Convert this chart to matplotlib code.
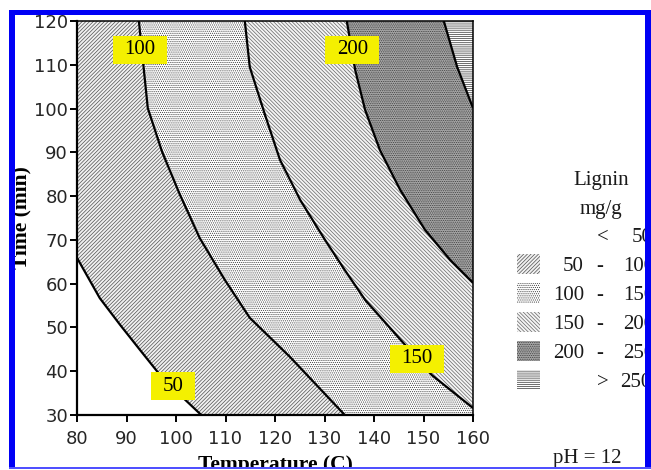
import matplotlib
matplotlib.use("Agg")
import matplotlib.pyplot as plt
from matplotlib.patches import Rectangle
from matplotlib.path import Path

# ---- data -------------------------------------------------------------
levels = [50, 100, 150, 200, 250]          # lignin, mg/g
x_ticks = [80, 90, 100, 110, 120, 130, 140, 150, 160]
y_ticks = [30, 40, 50, 60, 70, 80, 90, 100, 110, 120]

# iso-lignin curves: temperature (C) and time (min)
c50_T = [80.0, 84.6, 88.7, 92.7, 96.8, 100.8, 105.1]
c50_t = [65.9, 56.7, 50.6, 44.9, 39.1, 34.6, 30.0]

c100_T = [92.5, 94.3, 97.2, 100.8, 104.8, 109.9, 114.9, 123.0, 134.1]
c100_t = [120.0, 100.1, 90.1, 80.3, 70.4, 60.8, 52.2, 43.3, 30.0]

c150_T = [113.9, 114.9, 118.0, 121.0, 125.1, 130.1, 134.1, 138.2, 145.9, 151.7, 160.0]
c150_t = [120.0, 109.5, 98.5, 88.3, 79.1, 70.0, 63.1, 56.3, 46.5, 39.1, 31.6]

c200_T = [134.5, 136.2, 138.2, 141.2, 145.3, 150.3, 155.4, 160.0]
c200_t = [120.0, 108.8, 99.7, 90.5, 81.4, 72.3, 65.4, 60.2]

c250_T = [154.1, 156.8, 160.0]
c250_t = [120.0, 109.5, 100.1]

# contour label anchor points (T, t)
label_T = [99.4, 92.7, 148.7, 135.6]
label_t = [36.6, 113.4, 42.8, 113.4]
label_val = [50, 100, 150, 200]

ph_value = 12

# ---- figure -----------------------------------------------------------
W, H = 651, 470
fig = plt.figure(figsize=(W / 100, H / 100), dpi=100)
fig.patch.set_facecolor("white")


def fx(x):
    return x / W


def fy(y):
    return 1 - y / H


ax = fig.add_axes([fx(77), fy(415), (473 - 77) / W, (415 - 21) / H])
X0, X1 = x_ticks[0], x_ticks[-1]
Y0, Y1 = y_ticks[0], y_ticks[-1]
ax.set_xlim(X0, X1)
ax.set_ylim(Y0, Y1)

plt.rcParams["hatch.linewidth"] = 0.5

# fill styles per band: (<50, 50-100, 100-150, 150-200, 200-250, >250)
band_styles = [
    dict(facecolor="white", hatch=None, edgecolor="white"),
    dict(facecolor="#f0f0f0", hatch="/" * 9, edgecolor="#505050"),
    dict(facecolor="white", hatch="." * 8, edgecolor="#3c3c3c"),
    dict(facecolor="#f4f4f4", hatch="\\" * 9, edgecolor="#666666"),
    dict(facecolor="#a6a6a6", hatch="." * 9, edgecolor="#3a3a3a"),
    dict(facecolor="white", hatch="-" * 8, edgecolor="#333333"),
]

curves = [(c50_T, c50_t), (c100_T, c100_t), (c150_T, c150_t),
          (c200_T, c200_t), (c250_T, c250_t)]


def below_region(T, t):
    """Polygon of the part of the plot lying below/left of a curve."""
    xs, ys = list(T), list(t)
    if xs[-1] >= X1:              # curve leaves through the right edge
        xs.append(X1); ys.append(Y0)
    xs.append(X0); ys.append(Y0)
    if ys[0] >= Y1:               # curve enters through the top edge
        xs.append(X0); ys.append(Y1)
    return xs, ys


# highest band first, then paint lower bands over it
ax.fill([X0, X1, X1, X0], [Y0, Y0, Y1, Y1], linewidth=0, **band_styles[5])
for i in range(len(curves) - 1, -1, -1):
    xs, ys = below_region(*curves[i])
    ax.fill(xs, ys, linewidth=0, **band_styles[i])

for T, t in curves:
    ax.plot(T, t, color="black", lw=1.6, solid_capstyle="butt", zorder=3)


def label_box(x0, y0, width, height, mutation_size):
    padx = 0.55 * mutation_size
    pady = 0.2 * mutation_size
    x0, y0 = x0 - padx, y0 - pady
    x1, y1 = x0 + width + 2 * padx, y0 + height + 2 * pady
    return Path([(x0, y0), (x1, y0), (x1, y1), (x0, y1), (x0, y0)],
                closed=True)


for T, t, v in zip(label_T, label_t, label_val):
    ax.text(T, t, str(v), ha="center", va="center", fontsize=15,
            family="Liberation Serif", color="black", zorder=5,
            bbox=dict(boxstyle=label_box, facecolor="#f4f000",
                      edgecolor="none"))

# axes styling
ax.set_xticks(x_ticks)
ax.set_yticks(y_ticks)
for side in ("left", "bottom"):
    ax.spines[side].set_linewidth(1.6)
for side in ("top", "right"):
    ax.spines[side].set_linewidth(1.1)
ax.tick_params(direction="out", length=5, width=1.4, labelsize=13,
               labelcolor="#262626", colors="black")
ax.tick_params(axis="x", pad=6)
ax.tick_params(axis="y", pad=1.5)
for lab in ax.get_xticklabels() + ax.get_yticklabels():
    lab.set_family("DejaVu Sans")

# axis titles
fig.text(fx(275), fy(470), "Temperature (C)", ha="center", va="baseline",
         fontsize=15.5, fontweight="bold", family="Liberation Serif")
fig.text(fx(26.5), fy(218), "Time (min)", ha="center", va="baseline",
         rotation=90, rotation_mode="anchor", fontsize=15.5,
         fontweight="bold", family="Liberation Serif")

# ---- legend -----------------------------------------------------------
serif = dict(family="Liberation Serif", fontsize=15, color="#1a1a1a")
fig.text(fx(601), fy(185), "Lignin", ha="center", va="baseline", **serif)
fig.text(fx(601), fy(214), "mg/g", ha="center", va="baseline", **serif)

row_y = [235, 264, 293, 322, 351, 380]
fig.text(fx(602.5), fy(row_y[0] + 7), "<", ha="center", va="baseline", **serif)
fig.text(fx(632), fy(row_y[0] + 7), str(levels[0]), ha="left",
         va="baseline", **serif)
for k in range(len(levels) - 1):
    yb = fy(row_y[k + 1] + 7)
    fig.text(fx(584), yb, str(levels[k]), ha="right", va="baseline", **serif)
    fig.text(fx(600), yb, "-", ha="center", va="baseline", **serif)
    fig.text(fx(623), yb, str(levels[k + 1]), ha="left", va="baseline",
             **serif)
fig.text(fx(603), fy(row_y[-1] + 7), ">", ha="center", va="baseline", **serif)
fig.text(fx(620), fy(row_y[-1] + 7), str(levels[-1]), ha="left",
         va="baseline", **serif)

for k in range(1, len(band_styles)):
    yc = row_y[k]
    fig.add_artist(Rectangle((fx(517), fy(yc + 10)), 23 / W, 20 / H,
                             transform=fig.transFigure, linewidth=0,
                             **band_styles[k]))

fig.text(fx(553), fy(463), f"pH = {ph_value}", ha="left", va="baseline",
         **serif)

# ---- page frame -------------------------------------------------------
blue = "#0000f5"
for (x0, y0, x1, y1, c) in [
        (0, 0, 9, H, "white"), (0, 0, W, 10, "white"),
        (0, 469, W, H, "white"),
        (9, 10, 15, 468, blue), (9, 10, W, 15, blue),
        (645, 10, W, 468, blue), (9, 467, W, 468.5, "#5050ff")]:
    fig.add_artist(Rectangle((fx(x0), fy(y1)), (x1 - x0) / W, (y1 - y0) / H,
                             transform=fig.transFigure, facecolor=c,
                             edgecolor="none", zorder=20))

fig.savefig("out.png", dpi=100)
